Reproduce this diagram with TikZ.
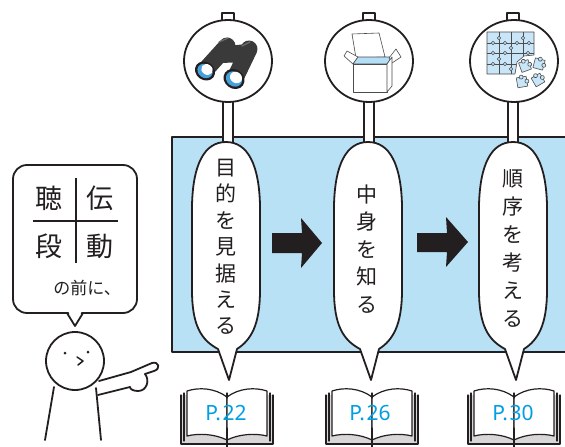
\documentclass[tikz,border=0pt]{standalone}
\usepackage{fontspec}
\usetikzlibrary{shapes.geometric}
\setmainfont{Noto Sans}
\newfontfamily\jp{Noto Sans CJK JP}
\definecolor{inkc}{RGB}{35,31,32}
\definecolor{panelblue}{RGB}{184,225,246}
\definecolor{pagegray}{RGB}{215,215,215}
\definecolor{pagecyan}{RGB}{0,158,226}
\definecolor{bincol}{RGB}{58,58,58}
\definecolor{binhi}{RGB}{110,110,110}
\definecolor{lensblue}{RGB}{70,160,220}
\definecolor{puzzleblue}{RGB}{200,230,248}
\definecolor{boxblue}{RGB}{180,222,245}
\begin{document}
\begin{tikzpicture}[x=1pt,y=-1pt,
  ink/.style={draw=inkc, line width=1.8pt, line join=round, line cap=round},
  thinink/.style={draw=inkc, line width=1.2pt, line join=round, line cap=round},
  iconline/.style={draw=gray!60!black, line width=0.6pt, line join=round},
  vtext/.style={align=center, inner sep=0pt, text=inkc},
  signplate/.style={ink, fill=white, ellipse, minimum width=88pt, minimum height=82pt, inner sep=0pt},
  pagelabel/.style={font=\fontsize{21}{21}\selectfont, text=pagecyan, inner sep=0pt},
  talk/.pic={
    \path[ink, fill=white] (0,142) .. controls (22,142) and (33,165) .. (34,205)
      -- (34,290) .. controls (34,325) and (25,340) .. (11,349) -- (3,380) -- (-8,349)
      .. controls (-25,340) and (-34,325) .. (-34,290) -- (-34,205)
      .. controls (-33,165) and (-22,142) .. (0,142) -- cycle;
  },
  openbook/.pic={
    \path[thinink, fill=pagegray] (-46,395) -- (-46,444) -- (46,444) -- (46,395);
    \draw[thinink] (-43,393) -- (-43,441);
    \draw[thinink] (43,393) -- (43,441);
    \path[thinink, fill=white] (0,397) .. controls (-12,388) and (-28,387) .. (-40,391)
      -- (-40,436) .. controls (-28,433) and (-12,434) .. (0,440) -- cycle;
    \path[thinink, fill=white] (0,397) .. controls (12,388) and (28,387) .. (40,391)
      -- (40,436) .. controls (28,433) and (12,434) .. (0,440) -- cycle;
    \draw[thinink] (0,393) -- (0,398);
    \draw[thinink] (0,428) -- (0,447);
  }
]
\useasboundingbox (0,0) rectangle (565,447);
\clip (0,0) rectangle (565,447);
\fill[white] (0,0) rectangle (565,447);

% blue panel behind the three steps
\path[ink, fill=panelblue] (172,137) rectangle (580,352);

% sign posts: stem, tab and round plate
\foreach \x in {228,369,513} {
  \path[ink, fill=white] (\x-5,95) rectangle (\x+5,152);
  \path[ink, fill=white] (\x-6,13) rectangle (\x+6,22);
}
\node[signplate] (sign1) at (228,61) {};
\node[signplate] (sign2) at (369,61) {};
\node[signplate] (sign3) at (514,61) {};

% binoculars
\draw[bincol, line width=17pt, line cap=round] (208,67) -- (227,46);
\draw[bincol, line width=17pt, line cap=round] (237,74) -- (249,49);
\fill[bincol] (219,47) -- (246,44) -- (246,62) -- (221,63) -- cycle;
\draw[binhi, line width=1.2pt, line cap=round] (219,42) -- (228,38);
\draw[binhi, line width=1.2pt, line cap=round] (242,46) -- (250,42);
\fill[inkc, rotate around={-35:(205,71)}] (205,71) ellipse (10.5pt and 9pt);
\fill[lensblue, rotate around={-35:(205,71)}] (205,71) ellipse (8pt and 6.8pt);
\fill[white, rotate around={-35:(207,69.5)}] (207,69.5) ellipse (6pt and 5.2pt);
\fill[inkc, rotate around={-35:(234,79)}] (234,79) ellipse (11pt and 9.5pt);
\fill[lensblue, rotate around={-35:(234,79)}] (234,79) ellipse (8.5pt and 7.2pt);
\fill[white, rotate around={-35:(236,77.5)}] (236,77.5) ellipse (6.3pt and 5.5pt);

% open box
\path[iconline, fill=white] (356,58) -- (352,34) -- (379,33) -- (385,57) -- cycle;
\path[iconline, fill=white] (353,64) -- (344,56) -- (347,51) -- (358,57) -- cycle;
\path[iconline, fill=boxblue] (353,64) -- (358,57) -- (392,57) -- (387,64) -- cycle;
\path[iconline, fill=white] (389,58) -- (396,49) -- (401,57) -- (392,63) -- cycle;
\path[iconline, fill=white] (353,64) rectangle (387,92);
\path[iconline, fill=white] (387,64) -- (392,57) -- (392,86) -- (387,92) -- cycle;

% jigsaw puzzle
\path[iconline, fill=puzzleblue] (487,32) -- (534,32) -- (534,55) -- (524,56)
  -- (517,62) -- (515,74) -- (487,74) -- cycle;
\draw[iconline] (499,32) -- (499,74) (511,32) -- (511,74) (523,32) -- (523,56);
\draw[iconline] (487,43) -- (534,43) (487,53) -- (534,53) (487,64) -- (516,64);
\foreach \p in {(499,38),(511,48),(523,38),(493,43),(505,53),(517,43),(499,59),
                (511,69),(493,64),(528,53),(505,43),(529,43),(493,53),(505,64)}
  \path[iconline, fill=puzzleblue] \p circle [radius=1.8pt];
\foreach \x/\y/\r in {525/66/20, 539/64/-15, 522/82/10, 538/80/30} {
  \begin{scope}[shift={(\x,\y)}, rotate=\r]
    \path[iconline, fill=puzzleblue] (-5,-5) rectangle (5,5);
    \path[iconline, fill=puzzleblue] (5,0) circle [radius=2pt];
    \path[iconline, fill=puzzleblue] (0,-5) circle [radius=2pt];
  \end{scope}
}

% speech bubbles with the three steps
\pic at (226,0) {talk};
\pic at (368,0) {talk};
\pic at (513,0) {talk};
\node[vtext, font=\jp\fontsize{21}{26.4}\selectfont] (step1) at (226,247) {目\\的\\を\\見\\据\\え\\る};
\node[vtext, font=\jp\fontsize{21}{27.5}\selectfont] (step2) at (367,249) {中\\身\\を\\知\\る};
\node[vtext, font=\jp\fontsize{21}{28}\selectfont] (step3) at (513,248) {順\\序\\を\\考\\え\\る};

% block arrows between the steps
\fill[inkc] (272,233) -- (302,233) -- (301,218) -- (322,243) -- (301,268) -- (302,253) -- (272,253) -- cycle;
\fill[inkc] (417,233) -- (447,233) -- (446,217) -- (468,242) -- (446,267) -- (447,252) -- (417,252) -- cycle;

% open books with page references
\pic at (227,0) {openbook};
\pic at (372,0) {openbook};
\pic at (514,0) {openbook};
\node[pagelabel] (p22) at (226,413) {P.\hspace{1.5pt}22};
\node[pagelabel] (p26) at (370,413) {P.\hspace{1.5pt}26};
\node[pagelabel] (p30) at (513,413) {P.\hspace{1.5pt}30};

% left speech bubble
\path[ink, fill=white, rounded corners=14pt] (13,165) rectangle (137,313);
\fill[white] (68,311) -- (82,311) -- (75,324) -- cycle;
\draw[ink] (67,313) -- (75,326) -- (83,313);
\draw[inkc, line width=2.6pt] (76,178) -- (76,263);
\draw[inkc, line width=2.6pt] (33,221) -- (118,221);
\node[vtext, font=\jp\fontsize{27}{27}\selectfont] (k1) at (49,198) {聴};
\node[vtext, font=\jp\fontsize{27}{27}\selectfont] (k2) at (100,198) {伝};
\node[vtext, font=\jp\fontsize{27}{27}\selectfont] (k3) at (49,246) {段};
\node[vtext, font=\jp\fontsize{27}{27}\selectfont] (k4) at (100,246) {動};
\node[vtext, font=\jp\fontsize{17}{17}\selectfont] (before) at (87,288) {の前に、};

% pointing figure
\draw[ink] (75,361) circle [radius=29pt];
\fill[inkc] (65,353) circle [radius=1.5pt];
\fill[inkc] (88,352) circle [radius=1.5pt];
\draw[ink, line width=1.5pt] (77,357) -- (83,361) -- (78,365);
\draw[ink] (54,387) -- (45,440);
\draw[ink] (96,388) -- (101,440);
\draw[ink] (99,381) -- (131,372) -- (152,363) .. controls (159,361) and (161,369) .. (154,371) -- (145,374);
\draw[ink] (98,395) -- (130,387);
\draw[ink] (145,374) .. controls (150,380) and (147,391) .. (138,391) .. controls (133,391) and (130,389) .. (130,387);
\end{tikzpicture}
\end{document}
